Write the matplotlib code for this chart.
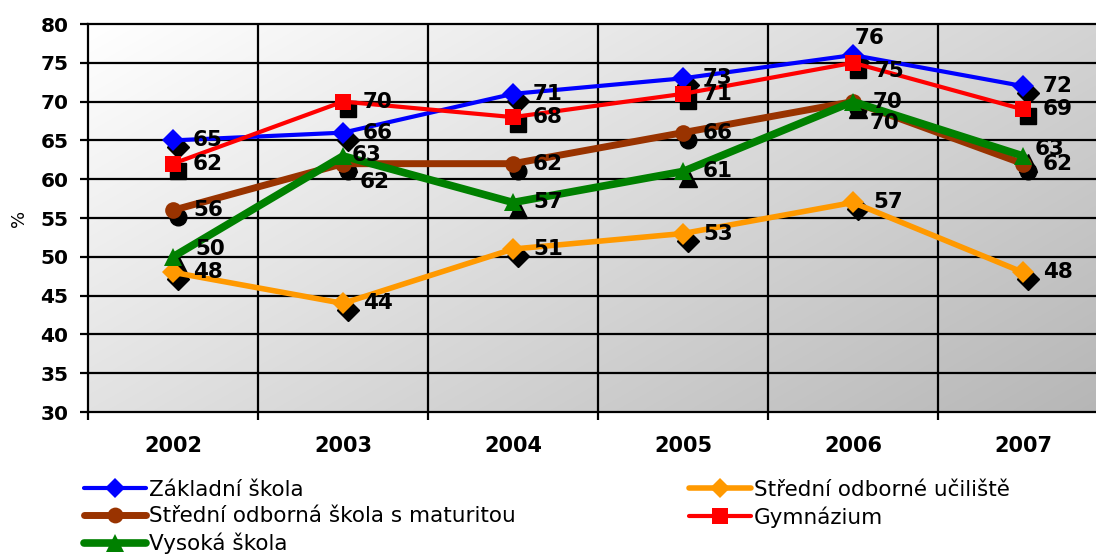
import matplotlib
matplotlib.use('Agg')
import matplotlib.pyplot as plt
import matplotlib.transforms as mtransforms
from matplotlib.colors import LinearSegmentedColormap
from matplotlib.lines import Line2D
import numpy as np

plt.rcParams['font.family'] = ['DejaVu Sans']

years = ['2002', '2003', '2004', '2005', '2006', '2007']
zakladni = [65, 66, 71, 73, 76, 72]
sou = [48, 44, 51, 53, 57, 48]
sos_maturita = [56, 62, 62, 66, 70, 62]
gymnazium = [62, 70, 68, 71, 75, 69]
vysoka = [50, 63, 57, 61, 70, 63]

names = ['Základní škola', 'Střední odborné učiliště',
         'Střední odborná škola s maturitou', 'Gymnázium', 'Vysoká škola']

# style per series: color, marker, markersize, linewidth
styles = {
    'Základní škola': ('#0000ff', 'D', 11, 3),
    'Střední odborné učiliště': ('#ff9900', 'D', 11, 4),
    'Střední odborná škola s maturitou': ('#993300', 'o', 12, 5),
    'Gymnázium': ('#ff0000', 's', 12, 3),
    'Vysoká škola': ('#008000', '^', 13, 5.5),
}
values = {
    'Základní škola': zakladni,
    'Střední odborné učiliště': sou,
    'Střední odborná škola s maturitou': sos_maturita,
    'Gymnázium': gymnazium,
    'Vysoká škola': vysoka,
}
# label offsets in pixels (default: right of point)
label_offsets = {
    ('Základní škola', 4): (2, 17),
    ('Gymnázium', 4): (22, -8),
    ('Střední odborná škola s maturitou', 1): (17, -18),
    ('Vysoká škola', 0): (22, 8),
    ('Vysoká škola', 1): (9, 1),
    ('Vysoká škola', 4): (17, -21),
    ('Vysoká škola', 5): (12, 7),
}

fig = plt.figure(figsize=(10.96, 5.54), dpi=100)
ax = fig.add_axes([88 / 1096, 1 - 412 / 554, 1020 / 1096, 388 / 554])

# gradient background
gx, gy = np.meshgrid(np.linspace(0, 1, 200), np.linspace(1, 0, 100))
grad = (gx * 0.6 + (1 - gy) * 0.4)
cmap = LinearSegmentedColormap.from_list('bg', ['#ffffff', '#b6b6b6'])
ax.imshow(grad, extent=[0, 1, 0, 1], transform=ax.transAxes, cmap=cmap,
          aspect='auto', zorder=0, interpolation='bilinear')

x = np.arange(len(years))
ax.set_xlim(-0.5, len(years) - 0.5)
ax.set_ylim(30, 80)

for yv in range(35, 80, 5):
    ax.axhline(yv, color='black', lw=1.6, zorder=1)
for xv in np.arange(0.5, len(years) - 0.5, 1):
    ax.axvline(xv, color='black', lw=1.6, zorder=1)

shadow = mtransforms.offset_copy(ax.transData, fig=fig, x=5, y=-7, units='dots')

order = ['Střední odborné učiliště', 'Základní škola', 'Gymnázium',
         'Střední odborná škola s maturitou', 'Vysoká škola']
for i, name in enumerate(order):
    color, marker, ms, lw = styles[name]
    vals = values[name]
    ax.plot(x, vals, linestyle='none', marker=marker, ms=ms, color='black',
            transform=shadow, zorder=2)
    ax.plot(x, vals, color=color, lw=lw, marker=marker, ms=ms,
            markeredgewidth=0, zorder=3 + i, solid_capstyle='round')
    for j, v in enumerate(vals):
        dx, dy = label_offsets.get((name, j), (20, 0))
        ax.annotate(str(v), (x[j], v), xytext=(dx, dy), textcoords='offset pixels',
                    ha='left', va='center', fontsize=15.5, fontweight='bold',
                    zorder=10)

for s in ax.spines.values():
    s.set_linewidth(1.6)
    s.set_color('black')

ax.set_yticks(range(30, 81, 5))
ax.tick_params(axis='y', length=6, width=1.6, pad=8, labelsize=14.5)
for t in ax.get_yticklabels():
    t.set_fontweight('bold')
ax.set_xticks(np.arange(-0.5, len(years), 1))
ax.set_xticklabels([])
ax.tick_params(axis='x', which='major', length=6, width=1.6)
ax.set_xticks(x, minor=True)
ax.set_xticklabels(years, minor=True, fontsize=15, fontweight='bold')
ax.tick_params(axis='x', which='minor', length=0, pad=17)
ax.set_ylabel('%', fontsize=13, labelpad=9)

def handle(name):
    color, marker, ms, lw = styles[name]
    return Line2D([], [], color=color, marker=marker, ms=ms * 0.95, lw=lw,
                  markeredgewidth=0, solid_capstyle='round')

col1 = ['Základní škola', 'Střední odborná škola s maturitou', 'Vysoká škola']
col2 = ['Střední odborné učiliště', 'Gymnázium']
for cols, xpos in ((col1, 84), (col2, 689)):
    fig.legend([handle(n) for n in cols], cols, loc='upper left',
               bbox_to_anchor=(xpos / 1096, 1 - 480 / 554), frameon=False,
               fontsize=15.5, handlelength=2.9, handletextpad=0.1,
               labelspacing=0.3, borderpad=0, borderaxespad=0)

fig.savefig('out.png', dpi=100)
